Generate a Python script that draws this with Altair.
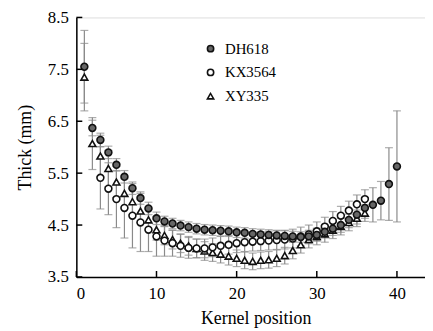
import altair as alt
import pandas as pd

# ---- data ----
dh_pos = list(range(1, 41))
dh_val = [7.55, 6.37, 6.14, 5.90, 5.66, 5.43, 5.21, 5.02, 4.82, 4.63,
          4.57, 4.53, 4.49, 4.46, 4.43, 4.41, 4.40, 4.39, 4.38, 4.36,
          4.35, 4.33, 4.32, 4.31, 4.30, 4.29, 4.28, 4.27, 4.28, 4.31,
          4.37, 4.43, 4.50, 4.60, 4.70, 4.83, 4.89, 4.97, 5.29, 5.63]
dh_err = [0.70, 0.15, 0.13, 0.12, 0.12, 0.12, 0.12, 0.12, 0.12, 0.12,
          0.10, 0.10, 0.10, 0.10, 0.10, 0.10, 0.10, 0.10, 0.10, 0.10,
          0.10, 0.10, 0.10, 0.10, 0.10, 0.10, 0.10, 0.10, 0.12, 0.12,
          0.12, 0.13, 0.14, 0.15, 0.18, 0.20, 0.33, 0.37, 0.70, 1.07]

kx_pos = list(range(3, 37))
kx_val = [5.41, 5.20, 5.00, 4.83, 4.68, 4.55, 4.41, 4.28, 4.20, 4.15,
          4.10, 4.06, 4.05, 4.05, 4.07, 4.10, 4.12, 4.15, 4.17, 4.18,
          4.19, 4.20, 4.21, 4.22, 4.24, 4.28, 4.32, 4.38, 4.47, 4.58,
          4.68, 4.78, 4.90, 5.00]
kx_err = [0.60, 0.50, 0.55, 0.58, 0.62, 0.56, 0.42, 0.38, 0.30, 0.25,
          0.22, 0.20, 0.18, 0.18, 0.18, 0.18, 0.18, 0.18, 0.18, 0.18,
          0.18, 0.18, 0.18, 0.18, 0.18, 0.18, 0.18, 0.18, 0.18, 0.18,
          0.18, 0.18, 0.18, 0.18]

xy_pos = list(range(1, 37))
xy_val = [7.35, 6.07, 5.83, 5.59, 5.33, 5.11, 4.95, 4.77, 4.60, 4.41,
          4.30, 4.22, 4.15, 4.10, 4.05, 4.00, 3.97, 3.94, 3.90, 3.86,
          3.82, 3.80, 3.82, 3.83, 3.86, 3.91, 4.01, 4.12, 4.22, 4.28,
          4.33, 4.40, 4.47, 4.55, 4.63, 4.73]
xy_err = [0.65, 0.50, 0.40, 0.35, 0.30, 0.28, 0.25, 0.22, 0.20, 0.20,
          0.18, 0.18, 0.18, 0.18, 0.18, 0.18, 0.17, 0.17, 0.17, 0.16,
          0.16, 0.16, 0.16, 0.16, 0.16, 0.16, 0.16, 0.16, 0.16, 0.16,
          0.16, 0.16, 0.16, 0.16, 0.16, 0.16]

series_names = ["DH618", "KX3564", "XY335"]
x_ticks = [0, 10, 20, 30, 40]
y_ticks = [3.5, 4.5, 5.5, 6.5, 7.5, 8.5]

rows = []
for name, ps, vs, es in [("DH618", dh_pos, dh_val, dh_err),
                         ("KX3564", kx_pos, kx_val, kx_err),
                         ("XY335", xy_pos, xy_val, xy_err)]:
    for p, v, e in zip(ps, vs, es):
        rows.append({"series": name, "k": p, "v": v, "e": e})
df = pd.DataFrame(rows)

PLOT_W, PLOT_H = 352, 262
TICK_LEN = 6
FONT = "Liberation Serif"

xscale = alt.Scale(domain=[0, 43.5], nice=False, zero=False)
yscale = alt.Scale(domain=[3.5, 8.5], nice=False, zero=False)
xaxis = alt.Axis(values=x_ticks, title="Kernel position", grid=False, tickSize=0,
                 labelPadding=9, labelFontSize=17, titleFontSize=18,
                 titleFontWeight="normal", titleX=181, titleY=47,
                 titleBaseline="alphabetic", domainColor="black", domainWidth=1.5,
                 labelColor="black", titleColor="black")
yaxis = alt.Axis(values=y_ticks, format=".1f", title="Thick (mm)", grid=False, tickSize=0,
                 labelPadding=8, labelFontSize=17, titleFontSize=18,
                 titleFontWeight="normal", titlePadding=13, domainColor="black",
                 domainWidth=1.5, labelColor="black", titleColor="black")

X = alt.X("k:Q", scale=xscale, axis=xaxis)
Y = alt.Y("v:Q", scale=yscale, axis=yaxis)

err = alt.Chart(df).mark_errorbar(
    ticks=alt.MarkConfig(size=8), color="#8a8a8a", thickness=1.2
).encode(x=X, y=Y, yError="e:Q")

leg = alt.Legend(title=None, symbolStrokeWidth=1.6,
                 symbolSize=40, labelFontSize=15, labelFont=FONT, labelColor="black",
                 rowPadding=8, labelOffset=7, padding=0, orient="none",
                 legendX=128, legendY=24)

points = alt.Chart(df).mark_point(
    filled=False, strokeWidth=1.6, size=48, opacity=1, fillOpacity=1, strokeOpacity=1
).encode(
    x=X, y=Y,
    shape=alt.Shape("series:N", scale=alt.Scale(domain=series_names,
                    range=["circle", "circle", "triangle-up"]), legend=leg),
    fill=alt.Fill("series:N", scale=alt.Scale(domain=series_names,
                  range=["#666666", "#ffffff", "#ffffff"]), legend=leg),
    stroke=alt.Stroke("series:N", scale=alt.Scale(domain=series_names,
                      range=["#111111", "#111111", "#111111"]), legend=leg),
    order=alt.Order("series:N", sort="descending"),
)

xt = pd.DataFrame({"t": x_ticks})
yt = pd.DataFrame({"t": y_ticks})
xtick_layer = alt.Chart(xt).mark_rule(color="black", strokeWidth=1.5).encode(
    x=alt.X("t:Q", scale=xscale, axis=xaxis),
    y=alt.value(PLOT_H), y2=alt.value(PLOT_H - TICK_LEN))
ytick_layer = alt.Chart(yt).mark_rule(color="black", strokeWidth=1.5).encode(
    y=alt.Y("t:Q", scale=yscale, axis=yaxis),
    x=alt.value(0), x2=alt.value(TICK_LEN))

chart = alt.layer(err, points, xtick_layer, ytick_layer).properties(
    width=PLOT_W, height=PLOT_H,
    autosize="none",
    padding={"left": 69, "top": 8, "right": 0, "bottom": 50},
).configure_view(strokeWidth=0).configure(
    font=FONT
).configure_axis(labelFont=FONT, titleFont=FONT)

chart.save("out.html", embed_options={"renderer": "svg", "actions": False})
